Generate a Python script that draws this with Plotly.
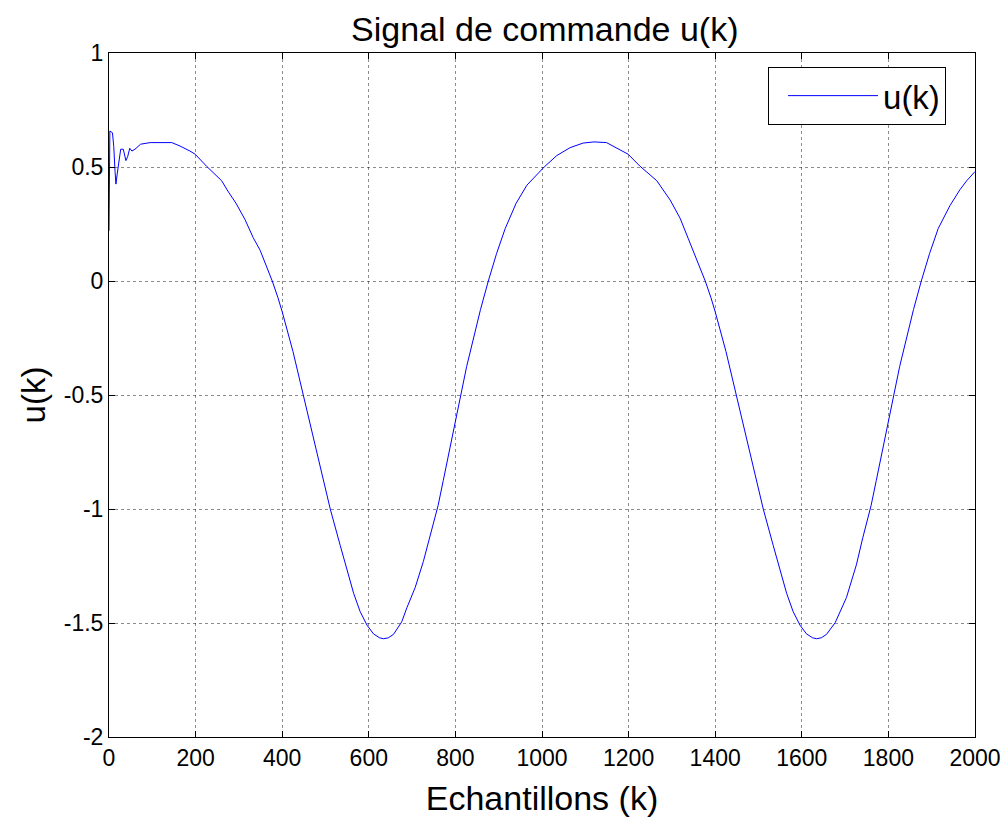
import plotly.graph_objects as go

# Samples k and control signal u(k)
k_vals = [0, 2, 8, 11, 14, 16, 19, 24, 27, 33, 39, 43, 48, 53, 60, 73, 95, 145, 164, 187, 199,
          226, 260, 276, 293, 314, 333, 349, 364, 377, 390, 400, 425, 450, 475, 495, 511,
          534, 550, 565, 580, 596, 611, 625, 634, 645, 657, 676, 688, 707, 726, 741,
          760, 772, 785, 798, 812, 826, 842, 858, 876, 895, 915, 940, 965, 985, 1005, 1034,
          1065, 1095, 1120, 1149,
          1172, 1199, 1226, 1265, 1296, 1319, 1338, 1357, 1377, 1390, 1400, 1425, 1450, 1475,
          1495, 1511, 1534, 1550, 1565, 1580, 1596, 1611, 1625, 1634, 1645, 1657, 1677, 1703,
          1726, 1741, 1760, 1772, 1785, 1798, 1812, 1826, 1842, 1858, 1876, 1895, 1915, 1942,
          1965, 1981, 2000]
u_vals = [0.22, 0.658, 0.65, 0.59, 0.48, 0.425, 0.47, 0.55, 0.578, 0.578, 0.528, 0.545, 0.582,
          0.57, 0.578, 0.6, 0.607, 0.607, 0.592, 0.570, 0.556,
          0.502, 0.44, 0.39, 0.342, 0.27, 0.19, 0.135, 0.067, 0.0, -0.072, -0.135, -0.31,
          -0.51, -0.71, -0.865, -1.0,
          -1.16, -1.27, -1.37, -1.45, -1.51, -1.548, -1.565, -1.569, -1.565, -1.55, -1.495,
          -1.433, -1.345, -1.23, -1.125,
          -0.985, -0.875, -0.755, -0.63, -0.5, -0.375, -0.25, -0.125, 0.0, 0.12, 0.23, 0.34,
          0.42, 0.46, 0.5, 0.55,
          0.585, 0.605, 0.61, 0.607,
          0.585, 0.556, 0.504, 0.44, 0.355, 0.275, 0.185, 0.095, 0.0, -0.072, -0.135, -0.31,
          -0.51, -0.71, -0.865, -1.0, -1.16, -1.27, -1.37, -1.45, -1.51, -1.548, -1.565,
          -1.569, -1.565, -1.55, -1.499, -1.389,
          -1.245, -1.125, -0.985, -0.875, -0.755, -0.63, -0.5, -0.375, -0.25, -0.125, 0.0,
          0.12, 0.23, 0.33,
          0.4, 0.44, 0.48]

x_ticks = [0, 200, 400, 600, 800, 1000, 1200, 1400, 1600, 1800, 2000]
x_ticklabels = ["0", "200", "400", "600", "800", "1000", "1200", "1400", "1600", "1800", "2000"]
y_ticks = [-2, -1.5, -1, -0.5, 0, 0.5, 1]
y_ticklabels = ["-2", "-1.5", "-1", "-0.5", "0", "0.5", "1"]

FONT = "Liberation Sans, Arial, sans-serif"

fig = go.Figure()
fig.add_trace(go.Scatter(x=k_vals, y=u_vals, mode="lines", name="u(k)",
                         line=dict(color="#0000ff", width=1)))

axis_common = dict(
    showline=True, linecolor="black", linewidth=1, mirror="ticks",
    ticks="inside", ticklen=6, tickcolor="black",
    showgrid=True, gridcolor="rgba(0,0,0,0.45)", griddash="dot", gridwidth=1,
    zeroline=False, automargin=False,
    tickfont=dict(family=FONT, size=23, color="black"),
)

fig.update_xaxes(range=[0, 2000], tickvals=x_ticks, ticktext=x_ticklabels,
                 title=dict(text="Echantillons (k)", font=dict(family=FONT, size=34, color="black"),
                            standoff=16),
                 **axis_common)
fig.update_yaxes(range=[-2, 1], tickvals=y_ticks, ticktext=y_ticklabels,
                 title=dict(text="u(k)", font=dict(family=FONT, size=33, color="black"),
                            standoff=8),
                 **axis_common)

fig.update_layout(
    width=1007, height=827,
    margin=dict(l=109, r=32, t=53, b=90),
    paper_bgcolor="white", plot_bgcolor="white",
    title=dict(text="Signal de commande u(k)", xref="container", x=0.541, xanchor="center",
               yref="container", y=0.965, yanchor="middle",
               font=dict(family=FONT, size=34, color="black")),
    showlegend=True,
    legend=dict(x=0.761, y=0.98, xanchor="left", yanchor="top",
                bgcolor="white", bordercolor="black", borderwidth=1,
                font=dict(family=FONT, size=33, color="black"),
                itemwidth=90, indentation=14),
)

fig.write_html("out.html")
